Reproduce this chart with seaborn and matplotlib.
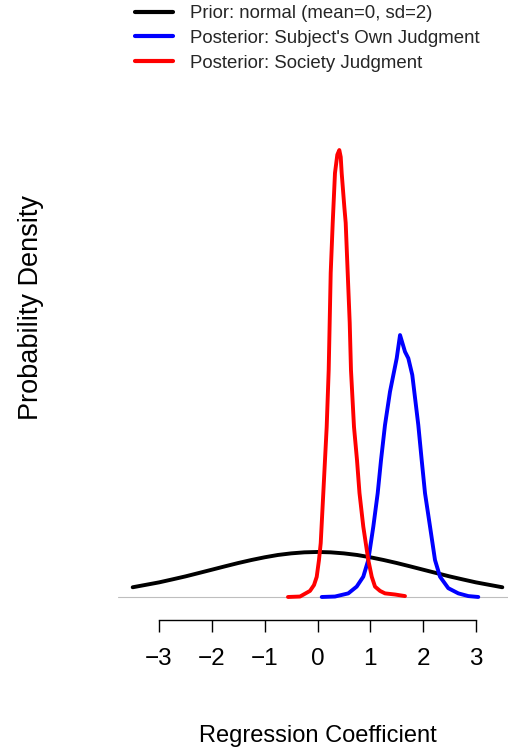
import matplotlib
matplotlib.use("Agg")
import matplotlib.pyplot as plt
import seaborn as sns
import pandas as pd

# ---- data ----
prior_x = [-3.5, -3.25, -3.0, -2.75, -2.5, -2.25, -2.0, -1.75, -1.5, -1.25, -1.0, -0.75,
           -0.5, -0.25, 0.0, 0.25, 0.5, 0.75, 1.0, 1.25, 1.5, 1.75, 2.0, 2.25, 2.5,
           2.75, 3.0, 3.25, 3.5]
prior_y = [0.0431, 0.0539, 0.0648, 0.0779, 0.0913, 0.1061, 0.1210, 0.1360, 0.1506,
           0.1640, 0.1760, 0.1862, 0.1933, 0.1979, 0.1995, 0.1979, 0.1933, 0.1862,
           0.1760, 0.1640, 0.1506, 0.1360, 0.1210, 0.1061, 0.0913, 0.0779, 0.0648,
           0.0539, 0.0431]

own_x = [0.080, 0.331, 0.583, 0.742, 0.867, 0.962, 1.057, 1.140, 1.203, 1.278, 1.373,
         1.500, 1.563, 1.657, 1.720, 1.795, 1.833, 1.909, 1.973, 2.036, 2.131, 2.225,
         2.320, 2.477, 2.667, 2.856, 3.045]
own_y = [0.000, 0.002, 0.016, 0.046, 0.090, 0.164, 0.312, 0.460, 0.607, 0.762, 0.910,
         1.058, 1.161, 1.087, 1.058, 0.984, 0.910, 0.762, 0.607, 0.460, 0.312, 0.164,
         0.090, 0.039, 0.016, 0.004, 0.000]

soc_x = [-0.559, -0.331, -0.142, -0.066, -0.015, 0.028, 0.061, 0.110, 0.174, 0.212,
         0.250, 0.288, 0.331, 0.375, 0.413, 0.440, 0.458, 0.508, 0.534, 0.572, 0.610,
         0.634, 0.691, 0.748, 0.795, 0.867, 0.962, 1.027, 1.089, 1.184, 1.278, 1.468,
         1.657]
soc_y = [0.000, 0.002, 0.027, 0.053, 0.089, 0.164, 0.239, 0.461, 0.754, 1.006,
         1.436, 1.658, 1.879, 1.960, 1.981, 1.950, 1.879, 1.729, 1.658, 1.436, 1.215,
         1.006, 0.754, 0.607, 0.461, 0.312, 0.164, 0.090, 0.046, 0.027, 0.016, 0.011,
         0.004]

labels = ["Prior: normal (mean=0, sd=2)",
          "Posterior: Subject's Own Judgment",
          "Posterior: Society Judgment"]
colors = ["#000000", "#0000FF", "#FF0000"]
xticks = [-3, -2, -1, 0, 1, 2, 3]

df = pd.concat([
    pd.DataFrame({"x": prior_x, "y": prior_y, "series": labels[0]}),
    pd.DataFrame({"x": own_x, "y": own_y, "series": labels[1]}),
    pd.DataFrame({"x": soc_x, "y": soc_y, "series": labels[2]}),
], ignore_index=True)

sns.set_theme(style="white")
plt.rcParams["font.family"] = ["Liberation Sans", "DejaVu Sans"]

W, H = 508, 747
fig = plt.figure(figsize=(W / 100, H / 100), dpi=100)
# axes region in pixels: x 118..517, y 0..620
ax = fig.add_axes([118 / W, (H - 620) / H, (517 - 118) / W, 620 / H])

ax.axhline(0, color="#bebebe", lw=0.8, zorder=1)
sns.lineplot(data=df, x="x", y="y", hue="series", hue_order=labels,
             palette=dict(zip(labels, colors)), estimator=None, sort=False,
             lw=2.8, ax=ax, legend=True, zorder=3)

ax.set_xlim(-3.778, 3.778)
ax.set_ylim(-0.102, 2.646)

for s in ["top", "right", "left"]:
    ax.spines[s].set_visible(False)
ax.spines["bottom"].set_bounds(-3, 3)
ax.spines["bottom"].set_color("black")
ax.spines["bottom"].set_linewidth(1.0)
ax.set_xticks(xticks)
ax.set_xticklabels([f"{t}".replace("-", "\u2212") for t in xticks])
ax.set_yticks([])
ax.tick_params(axis="x", direction="out", length=8.6, width=1.0, color="black",
               pad=11.5, labelsize=17.5, labelcolor="black", bottom=True)

ax.set_xlabel("Regression Coefficient", fontsize=17, color="black")
ax.xaxis.set_label_coords(0.5, (620 - 736) / 620)
ax.xaxis.label.set_va("center")
ax.set_ylabel("Probability Density", fontsize=19.5, color="black")
ax.yaxis.set_label_coords((31 - 118) / 399, (620 - 307) / 620)
ax.yaxis.label.set_va("center")

handles, _ = ax.get_legend_handles_labels()
ax.get_legend().remove()
leg = fig.legend(handles, labels, loc="upper left",
                 bbox_to_anchor=(135 / W, 1 - 5 / H), frameon=False,
                 fontsize=13.4, handlelength=2.05, handletextpad=0.9,
                 labelspacing=0.42, borderpad=0, borderaxespad=0)
for line in leg.get_lines():
    line.set_linewidth(3.0)

fig.savefig("out.png", dpi=100)
